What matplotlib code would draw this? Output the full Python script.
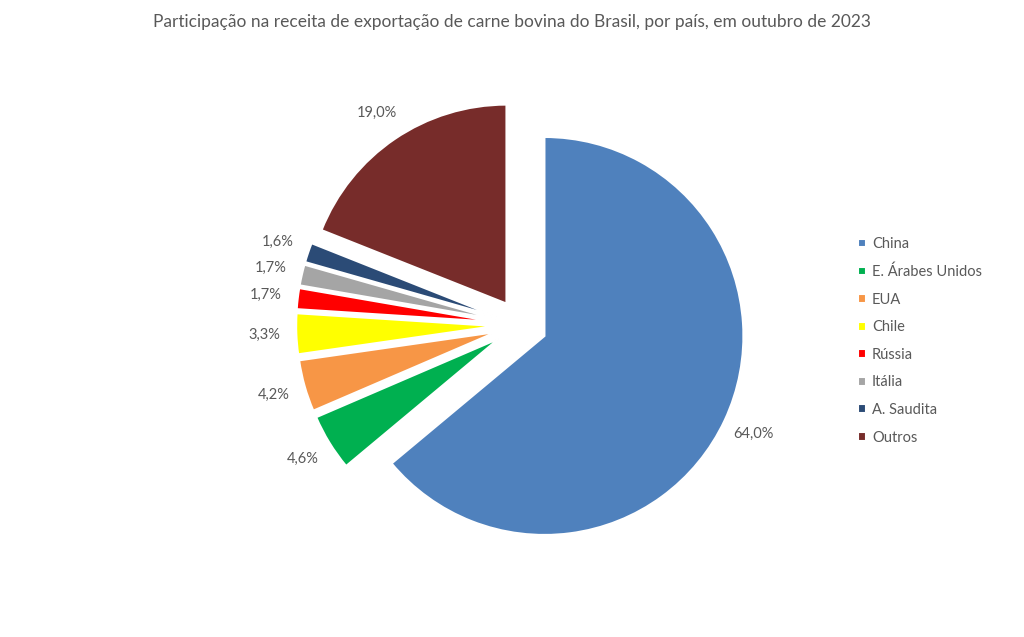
import matplotlib
matplotlib.use("Agg")
import matplotlib.pyplot as plt

plt.rcParams['font.family'] = ['Lato', 'DejaVu Sans']

# Data
countries = ["China", "E. Árabes Unidos", "EUA", "Chile", "Rússia", "Itália", "A. Saudita", "Outros"]
shares = [64.0, 4.6, 4.2, 3.3, 1.7, 1.7, 1.6, 19.0]
colors = ["#4F81BD", "#00B050", "#F79646", "#FFFF00", "#FF0000", "#A5A5A5", "#2B4B76", "#772C2A"]

text_color = "#595959"

fig = plt.figure(figsize=(10.24, 6.37), dpi=100)
ax = fig.add_axes([0, 0, 1, 1])

# pixel mapping: centre at (521, 325), radius 199 px
cx, cy, r = 521, 325, 199

pct_labels = [f"{v:.1f}%".replace(".", ",") for v in shares]

wedges, texts = ax.pie(
    shares,
    colors=colors,
    labels=pct_labels,
    labeldistance=1.16,
    startangle=90,
    counterclock=False,
    explode=[0.13] * len(shares),
    radius=1,
    wedgeprops=dict(edgecolor="white", linewidth=1.5),
    textprops=dict(color=text_color, fontsize=10.5),
    frame=True,
)
ax.set_xlim(-cx / r, (1024 - cx) / r)
ax.set_ylim(-(637 - cy) / r, cy / r)
ax.set_aspect("auto")
ax.axis("off")

for t in texts:
    t.set_ha("center")
    t.set_va("center")

fig.text(0.5, 1 - 22 / 637, "Participação na receita de exportação de carne bovina do Brasil, por país, em outubro de 2023",
         ha="center", va="center", fontsize=12.5, color=text_color)

leg = ax.legend(wedges, countries, loc="upper left", bbox_to_anchor=(845 / 1024, 1 - 224 / 637),
                bbox_transform=fig.transFigure, frameon=False, fontsize=10.5,
                handlelength=0.55, handleheight=0.55, handletextpad=0.4, labelspacing=0.93)
for t in leg.get_texts():
    t.set_color(text_color)

fig.savefig("out.png", dpi=100)
